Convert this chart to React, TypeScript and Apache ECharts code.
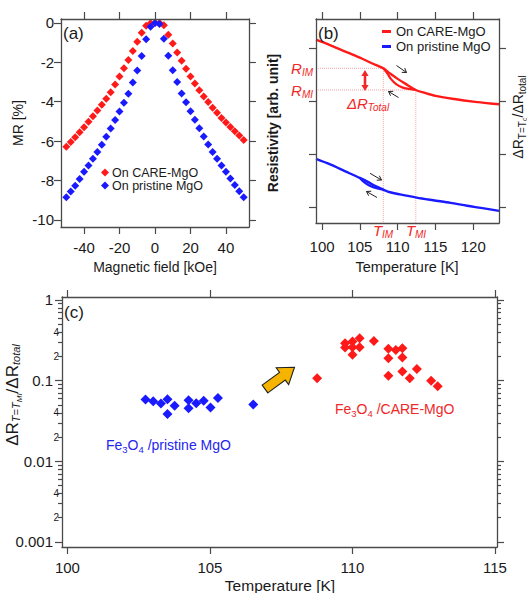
import React, { useEffect, useRef } from "react";
import * as echarts from "echarts";

const FONT = '"Liberation Sans", Arial, Helvetica, sans-serif';
const RED = "#ff1a1a";
const BLUE = "#1a1aff";
const RED_TXT = "#f02828";
const BLUE_TXT = "#2525f0";
const AXIS = "#4a4a4a";
const TXT = "#1a1a1a";
const GUIDE = "#f5a3a3";

// ---------- panel (a) : MR vs magnetic field ----------
const H_KOE = [
  -50, -47.5, -45, -42.5, -40, -37.5, -35, -32.5, -30, -27.5, -25, -22.5, -20, -17.5, -15, -12.5, -10, -7.5, -5, -2.5,
  0, 2.5, 5, 7.5, 10, 12.5, 15, 17.5, 20, 22.5, 25, 27.5, 30, 32.5, 35, 37.5, 40, 42.5, 45, 47.5, 50,
];
const MR_CARE = [
  -6.28, -6.05, -5.8, -5.55, -5.3, -5.02, -4.74, -4.45, -4.15, -3.85, -3.52, -3.12, -2.72, -2.3, -1.88, -1.42, -0.95,
  -0.5, -0.14, -0.02, 0.0, 0.0, -0.12, -0.6, -1.05, -1.5, -1.92, -2.33, -2.72, -3.08, -3.42, -3.73, -4.02, -4.3, -4.56,
  -4.82, -5.05, -5.28, -5.5, -5.72, -5.94,
];
const MR_PRISTINE = [
  -8.85, -8.56, -8.26, -7.92, -7.55, -7.24, -6.9, -6.55, -6.18, -5.78, -5.36, -4.93, -4.5, -4.05, -3.6, -3.02, -2.42,
  -1.68, -0.83, -0.19, 0.0, -0.06, -0.8, -1.66, -2.4, -3.0, -3.58, -4.03, -4.48, -4.92, -5.35, -5.77, -6.17, -6.55,
  -6.9, -7.24, -7.55, -7.9, -8.23, -8.54, -8.85,
];
const X_TICKS_A = [-40, -20, 0, 20, 40];
const Y_TICKS_A = [-10, -8, -6, -4, -2, 0];

// ---------- panel (b) : resistivity vs temperature ----------
const T_RED_MAIN = [99.2, 100.5, 102, 103.5, 105, 106.5, 108.1, 109, 110, 111, 112.4, 113.5, 115, 117.5, 120, 122, 123.4];
const R_RED_MAIN = [3.16, 3.09, 3.0, 2.91, 2.82, 2.72, 2.62, 2.52, 2.42, 2.33, 2.21, 2.16, 2.1, 2.04, 1.99, 1.96, 1.94];
const T_RED_BRANCH = [108.1, 108.6, 109.1, 109.8, 110.6, 111.5, 112.4];
const R_RED_BRANCH = [2.62, 2.53, 2.42, 2.32, 2.26, 2.23, 2.21];
const T_BLUE_MAIN = [99.2, 101, 103, 105, 106, 107, 108.1, 109, 110.3, 112.5, 114.7, 117, 119.2, 121, 123.4];
const R_BLUE_MAIN = [0.91, 0.81, 0.68, 0.55, 0.48, 0.4, 0.33, 0.28, 0.24, 0.18, 0.13, 0.08, 0.025, -0.015, -0.07];
const T_BLUE_BRANCH = [105, 105.6, 106.3, 107.2, 108.1];
const R_BLUE_BRANCH = [0.55, 0.465, 0.405, 0.355, 0.33];
const T_IM = 108.1;
const T_MI = 112.4;
const R_IM = 2.62;
const R_MI = 2.21;
const X_TICKS_B = [100, 105, 110, 115, 120];
const Y_TICKS_B = [0, 1, 2, 3];
const B_XMIN = 99.2;
const B_XMAX = 123.4;
const B_YMIN = -0.3;
const B_YMAX = 3.55;

// ---------- panel (c) : ratio vs temperature (log) ----------
const C_BLUE_T = [102.74, 103.01, 103.28, 103.51, 103.51, 103.76, 104.25, 104.25, 104.52, 104.78, 105.02, 105.28, 106.52];
const C_BLUE_V = [0.0585, 0.0555, 0.052, 0.059, 0.0385, 0.049, 0.057, 0.0455, 0.0525, 0.0565, 0.0465, 0.061, 0.0505];
const C_RED_T = [
  108.76, 109.74, 109.74, 110.0, 110.0, 110.0, 110.25, 110.25, 110.75, 111.26, 111.26, 111.52, 111.75, 111.75, 111.26,
  111.75, 112.01, 112.26, 112.76, 112.99,
];
const C_RED_V = [
  0.107, 0.291, 0.257, 0.305, 0.26, 0.209, 0.336, 0.26, 0.311, 0.248, 0.19, 0.24, 0.252, 0.194, 0.115, 0.13, 0.107,
  0.139, 0.1, 0.085,
];
const X_TICKS_C = [100, 105, 110, 115];
const DECADES = [-3, -2, -1, 0];
const MINOR_MANTISSA = [2, 3, 4, 5, 6, 7, 8, 9];
const LABELED_MANTISSA = [2, 4];

const majorLog = DECADES;
const minorLog: number[] = [];
const minorLabelLog: number[] = [];
DECADES.slice(0, 3).forEach((d) => {
  MINOR_MANTISSA.forEach((m) => minorLog.push(d + Math.log10(m)));
  LABELED_MANTISSA.forEach((m) => minorLabelLog.push(d + Math.log10(m)));
});

// ---------- helpers ----------
function axis(
  kind: "x" | "y",
  gridIndex: number,
  position: string,
  min: number,
  max: number,
  ticks: number[],
  o: any = {}
) {
  return {
    type: "value",
    gridIndex,
    position,
    min,
    max,
    axisLine: { show: o.line !== false, onZero: false, lineStyle: { color: AXIS, width: 1.3 } },
    axisTick: {
      show: true,
      inside: false,
      length: o.tickLen ?? 7,
      customValues: ticks,
      lineStyle: { color: AXIS, width: 1.2 },
    },
    axisLabel: {
      show: !!o.labels,
      customValues: o.labelValues ?? ticks,
      margin: o.margin ?? 8,
      fontSize: o.fontSize ?? 15,
      fontFamily: FONT,
      color: TXT,
      formatter: o.formatter,
      showMinLabel: true,
      showMaxLabel: true,
    },
    splitLine: { show: false },
    minorTick: { show: false },
    z: 5,
  };
}

function txt(x: number, y: number, text: string, o: any = {}) {
  return {
    type: "text",
    x,
    y,
    rotation: o.rotation || 0,
    silent: true,
    z: 100,
    style: {
      text,
      fill: o.fill || TXT,
      fontSize: o.fontSize || 15,
      fontFamily: FONT,
      fontWeight: o.fontWeight || "normal",
      fontStyle: o.fontStyle || "normal",
      align: o.align || "center",
      verticalAlign: "middle",
      textAlign: o.align || "center",
      textVerticalAlign: "middle",
      rich: o.rich,
    },
  };
}

function lineArrow(x1: number, y1: number, x2: number, y2: number, color: string, lw: number, hl: number, hw: number) {
  const dx = x2 - x1,
    dy = y2 - y1,
    L = Math.hypot(dx, dy),
    ux = dx / L,
    uy = dy / L,
    nx = -uy,
    ny = ux;
  const bx = x2 - ux * hl,
    by = y2 - uy * hl;
  return [
    { type: "line", silent: true, z: 100, shape: { x1, y1, x2, y2 }, style: { stroke: color, lineWidth: lw } },
    {
      type: "polyline",
      silent: true,
      z: 100,
      shape: {
        points: [
          [bx + nx * hw, by + ny * hw],
          [x2, y2],
          [bx - nx * hw, by - ny * hw],
        ],
      },
      style: { stroke: color, lineWidth: lw, fill: null },
    },
  ];
}

function doubleArrow(x: number, y1: number, y2: number, color: string) {
  const hl = 6,
    hw = 3.6;
  return [
    { type: "line", silent: true, z: 100, shape: { x1: x, y1: y1 + hl - 1, x2: x, y2: y2 - hl + 1 }, style: { stroke: color, lineWidth: 2.6 } },
    { type: "polygon", silent: true, z: 100, shape: { points: [[x, y1], [x - hw, y1 + hl], [x + hw, y1 + hl]] }, style: { fill: color } },
    { type: "polygon", silent: true, z: 100, shape: { points: [[x, y2], [x - hw, y2 - hl], [x + hw, y2 - hl]] }, style: { fill: color } },
  ];
}

function blockArrow(x1: number, y1: number, x2: number, y2: number) {
  const dx = x2 - x1,
    dy = y2 - y1,
    L = Math.hypot(dx, dy),
    ux = dx / L,
    uy = dy / L,
    nx = -uy,
    ny = ux;
  const sw = 4.8,
    hw = 10.5,
    hl = 15;
  const bx = x2 - ux * hl,
    by = y2 - uy * hl;
  return {
    type: "polygon",
    silent: true,
    z: 100,
    shape: {
      points: [
        [x1 + nx * sw, y1 + ny * sw],
        [bx + nx * sw, by + ny * sw],
        [bx + nx * hw, by + ny * hw],
        [x2, y2],
        [bx - nx * hw, by - ny * hw],
        [bx - nx * sw, by - ny * sw],
        [x1 - nx * sw, y1 - ny * sw],
      ],
    },
    style: { fill: "#f4b400", stroke: "#222", lineWidth: 1.1 },
  };
}

const subRich = (fill: string, big: number, small: number, italicMain: boolean, italicSub = true) => ({
  m: { fontSize: big, fontFamily: FONT, fontStyle: italicMain ? "italic" : "normal", fill, color: fill },
  s: {
    fontSize: small,
    fontFamily: FONT,
    fontStyle: italicSub ? "italic" : "normal",
    fill,
    color: fill,
    padding: [Math.round(small * 0.75), 0, 0, 0],
  },
  ss: {
    fontSize: small - 3,
    fontFamily: FONT,
    fontStyle: italicSub ? "italic" : "normal",
    fill,
    color: fill,
    padding: [Math.round(small * 1.3), 0, 0, 0],
  },
});

export default function App() {
  const ref = useRef<HTMLDivElement>(null);
  useEffect(() => {
    if (!ref.current) return;
    const chart = echarts.init(ref.current, undefined, { renderer: "svg" });

    const guideStyle = { color: GUIDE, width: 1, type: "dotted" as const };
    const solid = (c: string) => ({ color: c, opacity: 1 });

    const option: any = {
      animation: false,
      backgroundColor: "#ffffff",
      textStyle: { fontFamily: FONT },
      grid: [
        { left: 61, top: 19, width: 188, height: 208 },
        { left: 316, top: 19, width: 183, height: 204 },
        { left: 62, top: 297, width: 435, height: 250 },
      ],
      xAxis: [
        axis("x", 0, "bottom", -53, 53, X_TICKS_A, { labels: true, margin: 13 }),
        axis("x", 0, "top", -53, 53, X_TICKS_A, {}),
        axis("x", 1, "bottom", B_XMIN, B_XMAX, X_TICKS_B, { labels: true, margin: 16 }),
        axis("x", 1, "top", B_XMIN, B_XMAX, X_TICKS_B, {}),
        axis("x", 2, "bottom", 99.81, 115.07, X_TICKS_C, { labels: true, margin: 13 }),
        axis("x", 2, "top", 99.81, 115.07, X_TICKS_C, {}),
      ],
      yAxis: [
        axis("y", 0, "left", -10.36, 0.2, Y_TICKS_A, { labels: true, margin: 7 }),
        axis("y", 0, "right", -10.36, 0.2, Y_TICKS_A, {}),
        axis("y", 1, "left", B_YMIN, B_YMAX, Y_TICKS_B, {}),
        axis("y", 1, "right", B_YMIN, B_YMAX, Y_TICKS_B, {}),
        axis("y", 2, "left", -3.062, 0.037, majorLog, {
          labels: true,
          margin: 9,
          formatter: (v: number) => {
            const p = Math.round(v);
            return p === 0 ? "1" : Math.pow(10, p).toFixed(-p);
          },
        }),
        axis("y", 2, "left", -3.062, 0.037, minorLog, {
          labels: true,
          line: false,
          tickLen: 4,
          margin: 3,
          fontSize: 10,
          labelValues: minorLabelLog,
          formatter: (v: number) => String(Math.round(Math.pow(10, v - Math.floor(v + 1e-9)))),
        }),
        axis("y", 2, "right", -3.062, 0.037, majorLog, {}),
        axis("y", 2, "right", -3.062, 0.037, minorLog, { line: false, tickLen: 4 }),
      ],
      legend: [
        {
          left: 101,
          top: 166,
          orient: "vertical",
          padding: 0,
          itemGap: 0,
          itemWidth: 8,
          itemHeight: 8,
          selectedMode: false,
          textStyle: { fontSize: 12.5, fontFamily: FONT, color: TXT, padding: [0, 0, 0, -2] },
          data: [
            { name: "On CARE-MgO", icon: "diamond", itemStyle: { opacity: 1 } },
            { name: "On pristine MgO", icon: "diamond", itemStyle: { opacity: 1 } },
          ],
        },
        {
          left: 382,
          top: 25,
          orient: "vertical",
          padding: 0,
          itemGap: 2,
          itemWidth: 9,
          itemHeight: 3,
          selectedMode: false,
          textStyle: { fontSize: 13, fontFamily: FONT, color: TXT },
          data: [
            { name: "On CARE-MgO", icon: "rect", itemStyle: { opacity: 1 } },
            { name: "On pristine MgO", icon: "rect", itemStyle: { opacity: 1 } },
          ],
        },
      ],
      series: [
        {
          name: "On CARE-MgO",
          type: "scatter",
          xAxisIndex: 0,
          yAxisIndex: 0,
          symbol: "diamond",
          symbolSize: 8,
          itemStyle: solid(RED),
          data: H_KOE.map((h, i) => [h, MR_CARE[i]]),
          z: 3,
        },
        {
          name: "On pristine MgO",
          type: "scatter",
          xAxisIndex: 0,
          yAxisIndex: 0,
          symbol: "diamond",
          symbolSize: 8,
          itemStyle: solid(BLUE),
          data: H_KOE.map((h, i) => [h, MR_PRISTINE[i]]),
          z: 4,
        },
        {
          type: "line",
          xAxisIndex: 2,
          yAxisIndex: 2,
          showSymbol: false,
          silent: true,
          lineStyle: guideStyle,
          data: [
            [B_XMIN, R_IM],
            [T_IM, R_IM],
            [T_IM, B_YMIN],
          ],
          z: 1,
        },
        {
          type: "line",
          xAxisIndex: 2,
          yAxisIndex: 2,
          showSymbol: false,
          silent: true,
          lineStyle: guideStyle,
          data: [
            [B_XMIN, R_MI],
            [T_MI, R_MI],
            [T_MI, B_YMIN],
          ],
          z: 1,
        },
        {
          name: "On CARE-MgO",
          type: "line",
          xAxisIndex: 2,
          yAxisIndex: 2,
          smooth: 0.3,
          showSymbol: false,
          lineStyle: { color: RED, width: 2.4 },
          itemStyle: solid(RED),
          data: T_RED_MAIN.map((t, i) => [t, R_RED_MAIN[i]]),
          z: 3,
        },
        {
          name: "On CARE-MgO",
          type: "line",
          xAxisIndex: 2,
          yAxisIndex: 2,
          smooth: 0.4,
          showSymbol: false,
          lineStyle: { color: RED, width: 2.2 },
          itemStyle: solid(RED),
          data: T_RED_BRANCH.map((t, i) => [t, R_RED_BRANCH[i]]),
          z: 3,
        },
        {
          name: "On pristine MgO",
          type: "line",
          xAxisIndex: 2,
          yAxisIndex: 2,
          smooth: 0.3,
          showSymbol: false,
          lineStyle: { color: BLUE, width: 2.4 },
          itemStyle: solid(BLUE),
          data: T_BLUE_MAIN.map((t, i) => [t, R_BLUE_MAIN[i]]),
          z: 3,
        },
        {
          name: "On pristine MgO",
          type: "line",
          xAxisIndex: 2,
          yAxisIndex: 2,
          smooth: 0.4,
          showSymbol: false,
          lineStyle: { color: BLUE, width: 2.2 },
          itemStyle: solid(BLUE),
          data: T_BLUE_BRANCH.map((t, i) => [t, R_BLUE_BRANCH[i]]),
          z: 3,
        },
        {
          type: "scatter",
          xAxisIndex: 4,
          yAxisIndex: 4,
          symbol: "diamond",
          symbolSize: 10,
          itemStyle: solid(BLUE),
          data: C_BLUE_T.map((t, i) => [t, Math.log10(C_BLUE_V[i])]),
          z: 3,
        },
        {
          type: "scatter",
          xAxisIndex: 4,
          yAxisIndex: 4,
          symbol: "diamond",
          symbolSize: 10,
          itemStyle: solid(RED),
          data: C_RED_T.map((t, i) => [t, Math.log10(C_RED_V[i])]),
          z: 3,
        },
      ],
      graphic: {
        elements: [
          // panel (a)
          txt(63, 33, "(a)", { fontSize: 17, align: "left" }),
          txt(18, 123, "MR [%]", { fontSize: 14, rotation: Math.PI / 2 }),
          txt(155, 267, "Magnetic field [kOe]", { fontSize: 14 }),
          // panel (b)
          txt(318, 33, "(b)", { fontSize: 17, align: "left" }),
          txt(273, 123, "Resistivity [arb. unit]", { fontSize: 14, fontWeight: "bold", rotation: Math.PI / 2 }),
          txt(407, 267, "Temperature [K]", { fontSize: 14.5 }),
          txt(313, 68, "{m|R}{s|IM}", { align: "right", rich: subRich(RED_TXT, 15, 10, true) }),
          txt(313, 90, "{m|R}{s|MI}", { align: "right", rich: subRich(RED_TXT, 15, 10, true) }),
          txt(368, 103, "{m|ΔR}{s|Total}", { rich: subRich(RED_TXT, 15, 10, true) }),
          txt(383, 230, "{m|T}{s|IM}", { rich: subRich(RED_TXT, 15, 10, true) }),
          txt(416, 230, "{m|T}{s|MI}", { rich: subRich(RED_TXT, 15, 10, true) }),
          ...doubleArrow(365, 70, 91, RED_TXT),
          ...lineArrow(396.5, 65.5, 406.5, 72.5, "#222", 1, 4, 2.6),
          ...lineArrow(398.5, 97.5, 388.5, 91.5, "#222", 1, 4, 2.6),
          ...lineArrow(370, 173.3, 381.5, 180, "#222", 1, 4, 2.6),
          ...lineArrow(377, 197.5, 366.5, 191.5, "#222", 1, 4, 2.6),
          txt(518, 117, "{m|ΔR}{s|T=T}{ss|c}{m|/ΔR}{s|total}", {
            rotation: Math.PI / 2,
            rich: subRich(TXT, 14, 10, false, false),
          }),
          // panel (c)
          txt(64, 312, "(c)", { fontSize: 17, align: "left" }),
          txt(12, 395, "{m|ΔR}{s|T=T}{ss|MI}{m|/ΔR}{s|total}", { rotation: Math.PI / 2, rich: subRich(TXT, 17, 11, false) }),
          txt(280, 585, "Temperature [K]", { fontSize: 15.5 }),
          txt(106, 445, "{m|Fe}{n|3}{m|O}{n|4}{m| /pristine MgO}", {
            align: "left",
            rich: {
              m: { fontSize: 14, fontFamily: FONT, fill: BLUE_TXT, color: BLUE_TXT },
              n: { fontSize: 9.5, fontFamily: FONT, fill: BLUE_TXT, color: BLUE_TXT, padding: [8, 0, 0, 0] },
            },
          }),
          txt(335, 409, "{m|Fe}{n|3}{m|O}{n|4}{m| /CARE-MgO}", {
            align: "left",
            rich: {
              m: { fontSize: 14, fontFamily: FONT, fill: RED_TXT, color: RED_TXT },
              n: { fontSize: 9.5, fontFamily: FONT, fill: RED_TXT, color: RED_TXT, padding: [8, 0, 0, 0] },
            },
          }),
          blockArrow(265, 389, 294.5, 367.3),
        ],
      },
    };

    chart.setOption(option);
    return () => chart.dispose();
  }, []);

  return (
    <div
      ref={ref}
      style={{ position: "fixed", left: 0, top: 0, width: 527, height: 593, background: "#fff" }}
    />
  );
}
